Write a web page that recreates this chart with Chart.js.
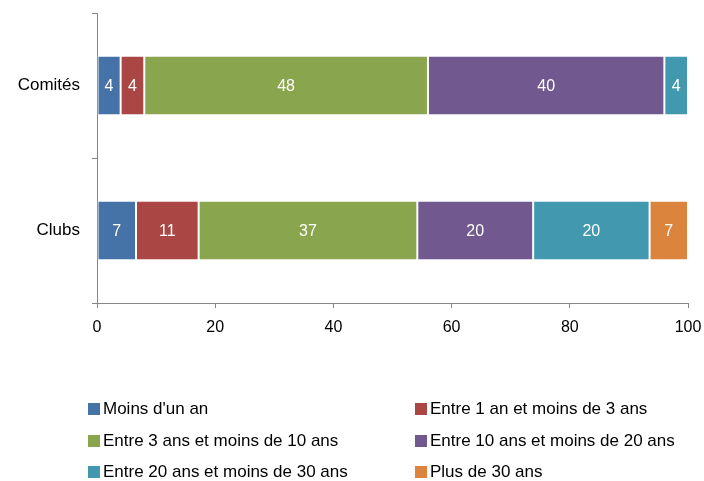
<!DOCTYPE html>
<html>
<head>
<meta charset="utf-8">
<script src="https://cdn.jsdelivr.net/npm/chart.js@4.4.1/dist/chart.umd.min.js"></script>
<style>
  html, body { margin: 0; padding: 0; background: #fff; }
  #wrap { position: relative; width: 704px; height: 481px; }
</style>
</head>
<body>
<div id="wrap"><canvas id="myChart" width="704" height="481"></canvas></div>
<script>
var categories = ["Comités", "Clubs"];
var seriesNames = [
  "Moins d'un an",
  "Entre 1 an et moins de 3 ans",
  "Entre 3 ans et moins de 10 ans",
  "Entre 10 ans et moins de 20 ans",
  "Entre 20 ans et moins de 30 ans",
  "Plus de 30 ans"
];
var moinsUnAn = [4, 6.6];
var entre1et3 = [4, 10.6];
var entre3et10 = [48, 37.0];
var entre10et20 = [40, 19.6];
var entre20et30 = [4, 19.7];
var plus30 = [0, 6.5];
var xTicks = [0, 20, 40, 60, 80, 100];

var colors = ["#4572A7", "#AA4643", "#89A54E", "#71588F", "#4198AF", "#DB843D"];
var allSeries = [moinsUnAn, entre1et3, entre3et10, entre10et20, entre20et30, plus30];

var FONT = "'Liberation Sans', Arial, sans-serif";

var datasets = allSeries.map(function(vals, i) {
  return {
    label: seriesNames[i],
    data: vals,
    backgroundColor: colors[i],
    borderColor: "rgba(255,255,255,0.45)",
    borderWidth: 1,
    borderSkipped: false,
    categoryPercentage: 1,
    barPercentage: 0.41
  };
});

// values written in the middle of each segment
var barLabels = {
  id: "barLabels",
  afterDatasetsDraw: function(chart) {
    var ctx = chart.ctx;
    ctx.save();
    ctx.fillStyle = "#fff";
    ctx.font = "16px " + FONT;
    ctx.textAlign = "center";
    ctx.textBaseline = "middle";
    chart.data.datasets.forEach(function(ds, i) {
      var meta = chart.getDatasetMeta(i);
      meta.data.forEach(function(el, j) {
        var v = ds.data[j];
        if (!v) return;
        ctx.fillText(String(Math.round(v)), (el.x + el.base) / 2, el.y + 1);
      });
    });
    ctx.restore();
  }
};

// two-column legend under the chart
var twoColLegend = {
  id: "twoColLegend",
  afterDraw: function(chart) {
    var ctx = chart.ctx;
    var colX = [88, 415];
    var rowY = [409, 441, 472];
    ctx.save();
    ctx.font = "17px " + FONT;
    ctx.textBaseline = "middle";
    ctx.textAlign = "left";
    chart.data.datasets.forEach(function(ds, i) {
      var x = colX[i % 2];
      var y = rowY[Math.floor(i / 2)];
      ctx.fillStyle = ds.backgroundColor;
      ctx.fillRect(x, y - 6, 12, 12);
      ctx.fillStyle = "#000";
      ctx.fillText(ds.label, x + 15, y);
    });
    ctx.restore();
  }
};

var ctx = document.getElementById("myChart").getContext("2d");
var chart = new Chart(ctx, {
  type: "bar",
  data: {
    labels: categories,
    datasets: datasets
  },
  plugins: [barLabels, twoColLegend],
  options: {
    indexAxis: "y",
    responsive: false,
    animation: false,
    layout: { padding: { top: 13, right: 16, left: 0, bottom: 0 } },
    plugins: {
      legend: { display: false },
      tooltip: { enabled: false }
    },
    scales: {
      x: {
        stacked: true,
        min: 0,
        max: 100,
        afterBuildTicks: function(scale) {
          scale.ticks = xTicks.map(function(v) { return { value: v }; });
        },
        afterFit: function(scale) {
          scale.height = 178;
          scale.paddingLeft = 0;
          scale.paddingRight = 0;
        },
        grid: {
          drawOnChartArea: false,
          drawTicks: true,
          tickLength: 5,
          color: "#868686"
        },
        border: { color: "#868686", width: 1 },
        ticks: {
          color: "#000",
          padding: 10,
          font: { family: FONT, size: 16 }
        }
      },
      y: {
        stacked: true,
        afterFit: function(scale) {
          scale.width = 97;
          scale.paddingTop = 0;
          scale.paddingBottom = 0;
        },
        grid: {
          drawOnChartArea: false,
          drawTicks: true,
          tickLength: 5,
          offset: true,
          color: "#868686"
        },
        border: { color: "#868686", width: 1 },
        ticks: {
          color: "#000",
          padding: 12,
          font: { family: FONT, size: 17 }
        }
      }
    }
  }
});
</script>
</body>
</html>
